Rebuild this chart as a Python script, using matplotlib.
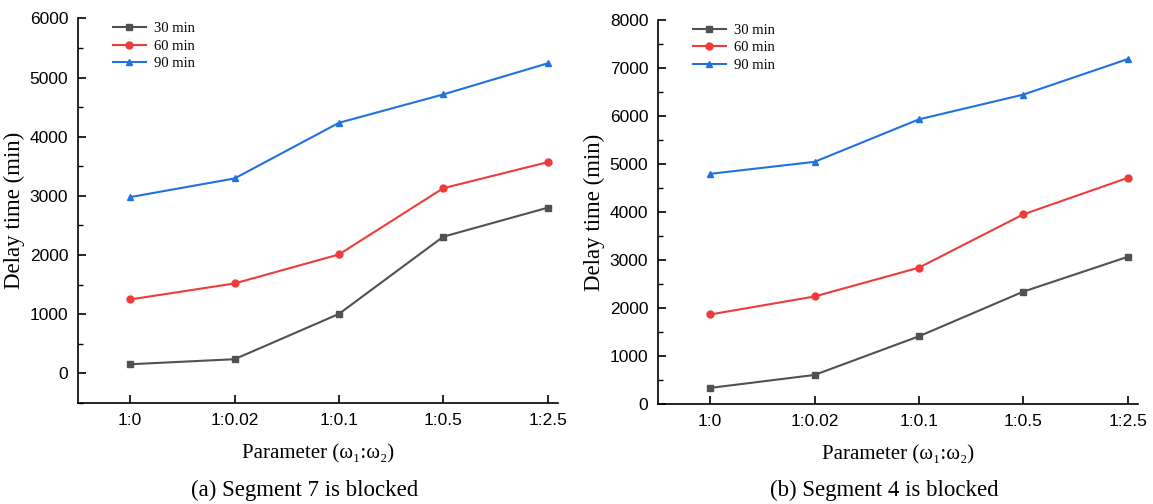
import matplotlib
matplotlib.use("Agg")
import matplotlib.pyplot as plt
from matplotlib.ticker import MultipleLocator

categories = ["1:0", "1:0.02", "1:0.1", "1:0.5", "1:2.5"]
series_names = ["30 min", "60 min", "90 min"]

# (a) Segment 7 is blocked
a_30 = [155, 240, 1005, 2310, 2800]
a_60 = [1250, 1520, 2010, 3130, 3570]
a_90 = [2980, 3295, 4235, 4715, 5240]

# (b) Segment 4 is blocked
b_30 = [335, 605, 1410, 2340, 3065]
b_60 = [1865, 2240, 2840, 3950, 4710]
b_90 = [4795, 5045, 5930, 6445, 7185]

colors = ["#515151", "#ee3c3c", "#2171e0"]
markers = ["s", "o", "^"]

serif = ["Liberation Serif", "DejaVu Serif"]
sans = ["Liberation Sans", "DejaVu Sans"]

fig = plt.figure(figsize=(11.53, 5.04), dpi=100)
W, H = 1153, 504

def make_ax(left_px, right_px, top_px, bottom_px):
    return fig.add_axes([left_px / W, 1 - bottom_px / H,
                         (right_px - left_px) / W, (bottom_px - top_px) / H])

ax1 = make_ax(78, 558, 18.4, 403)
ax2 = make_ax(658, 1138, 20, 404)

panels = [
    (ax1, [a_30, a_60, a_90], (-500, 6000), 1000, "(a) Segment 7 is blocked"),
    (ax2, [b_30, b_60, b_90], (0, 8000), 1000, "(b) Segment 4 is blocked"),
]

x = list(range(len(categories)))
for ax, data, ylim, major, caption in panels:
    for vals, name, c, m in zip(data, series_names, colors, markers):
        ax.plot(x, vals, color=c, marker=m, markersize=5, linewidth=1.5, label=name)
    ax.set_xlim(-0.5, 4.1)
    ax.set_ylim(*ylim)
    ax.set_xticks(x)
    ax.set_xticklabels(categories, fontfamily=sans, fontsize=12.5)
    ax.yaxis.set_major_locator(MultipleLocator(major))
    ax.yaxis.set_minor_locator(MultipleLocator(major / 2))
    for lbl in ax.get_yticklabels():
        lbl.set_fontfamily(sans)
        lbl.set_fontsize(12.5)
    ax.tick_params(axis="both", which="major", direction="in", length=6, width=1.2, pad=7)
    ax.tick_params(axis="y", which="minor", direction="in", length=3.5, width=1.0)
    ax.tick_params(axis="x", which="minor", bottom=False)
    ax.spines["top"].set_visible(False)
    ax.spines["right"].set_visible(False)
    ax.spines["left"].set_linewidth(1.2)
    ax.spines["bottom"].set_linewidth(1.2)
    ax.set_ylabel("Delay time (min)", fontfamily=serif, fontsize=16.5, labelpad=3)
    ax.set_xlabel("Parameter (ω\u2081:ω\u2082)", fontfamily=serif, fontsize=15, labelpad=12)
    ax.legend(loc="upper left", bbox_to_anchor=(0.045, 1.025), frameon=False,
              prop={"family": serif, "size": 10.5}, handlelength=2.3,
              handletextpad=0.5, labelspacing=0.3)
    pos = ax.get_position()
    fig.text((pos.x0 + pos.x1) / 2 - 0.012, 1 - 490 / H, caption,
             ha="center", va="center", fontfamily=serif, fontsize=16.5)

fig.savefig("out.png", dpi=100)
